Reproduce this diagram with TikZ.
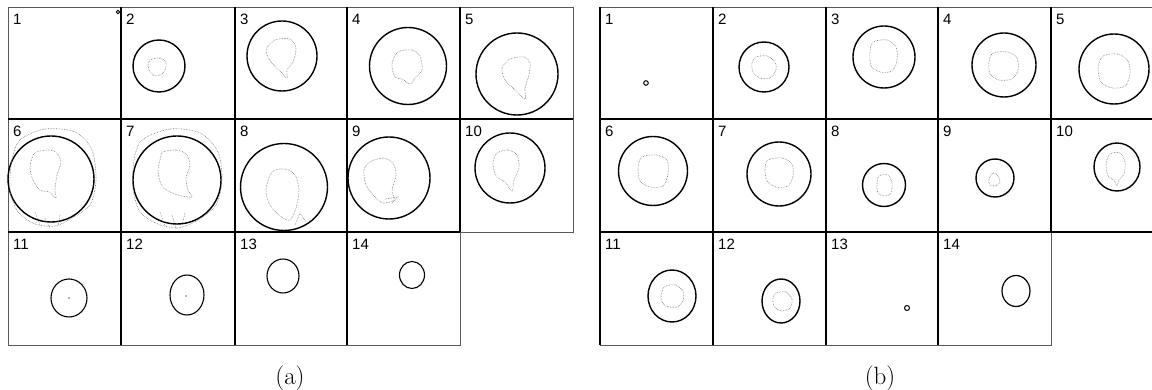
\documentclass[tikz,border=0pt]{standalone}
\usepackage{fontspec}
\newfontfamily\lblfont{Liberation Sans}
\begin{document}
\begin{tikzpicture}[x=1pt,y=-1pt,
  inner/.style={black,line width=1.5pt},
  outer/.style={black!65,line width=0.9pt},
  ring/.style={black,line width=1.4pt},
  contour/.style={black!55,line width=0.6pt,densely dotted},
  lbl/.style={font=\lblfont\fontsize{15}{15}\selectfont,inner sep=0pt,anchor=north west},
  capt/.style={font=\fontsize{25}{25}\selectfont,inner sep=0pt}]
\useasboundingbox (0,0) rectangle (1152,390);
\clip (0,0) rectangle (1152,390);
% ---------- grid (a) ----------
\draw[outer] (8,7) -- (573,7) -- (573,232) -- (460,232) -- (460,345) -- (8,345) -- cycle;
\draw[inner] (121,7) -- (121,345);
\draw[inner] (235,7) -- (235,345);
\draw[inner] (347,7) -- (347,345);
\draw[inner] (460,7) -- (460,232);
\draw[inner] (8,119) -- (573,119);
\draw[inner] (8,232) -- (460,232);
% labels (a)
\node[lbl] (a1) at (13,14) {1};
\node[lbl] (a2) at (126,14) {2};
\node[lbl] (a3) at (240,14) {3};
\node[lbl] (a4) at (352,14) {4};
\node[lbl] (a5) at (465,14) {5};
\node[lbl] (a6) at (13,126) {6};
\node[lbl] (a7) at (126,126) {7};
\node[lbl] (a8) at (240,126) {8};
\node[lbl] (a9) at (352,126) {9};
\node[lbl] (a10) at (465,126) {10};
\node[lbl] (a11) at (13,239) {11};
\node[lbl] (a12) at (126,239) {12};
\node[lbl] (a13) at (240,239) {13};
\node[lbl] (a14) at (352,239) {14};
% circles (a)
\draw[ring,line width=0.8pt] (118,12) circle (1.8);
\draw[ring] (159,66) circle (26);
\draw[ring] (282,56) circle (35);
\draw[ring] (408,66) circle (38.5);
\draw[ring] (517,74) circle (41);
\draw[ring] (51,179) circle (43);
\draw[ring] (177,180) circle (44);
\draw[ring] (284,187) circle (43.5);
\draw[ring] (389,178) circle (41);
\draw[ring] (510,168) circle (35);
\draw[ring,line width=1.1pt] (69,298) ellipse (18 and 19);
\draw[ring,line width=1.1pt] (187,295) ellipse (17 and 20);
\draw[ring,line width=1.1pt] (283,276) ellipse (16 and 17);
\draw[ring,line width=1.1pt] (412,275) ellipse (12.5 and 13.5);
\fill[black!60] (69,298) circle (0.8);
\fill[black!60] (186,296) circle (0.8);
% inner contours (a)
\draw[contour] plot[smooth cycle] coordinates {(150,60) (160,58) (166,63) (164,72) (156,76) (150,72) (148,66)};
\draw[contour] plot[smooth cycle] coordinates {(275,40) (290,39) (296,48) (293,62) (287,70) (287,78) (280,71) (271,62) (266,50)};
\draw[contour] plot[smooth cycle] coordinates {(398,52) (412,50) (420,56) (422,70) (415,78) (410,84) (402,79) (395,77) (392,64)};
\draw[contour] plot[smooth cycle] coordinates {(510,59) (524,57) (530,63) (529,75) (525,88) (525,99) (515,90) (505,80) (502,68)};
\draw[contour] plot[smooth cycle] coordinates {(36,152) (48,150) (56,152) (61,162) (57,175) (55,190) (56,198) (49,192) (40,190) (33,180) (30,168) (32,158)};
\draw[contour] plot[smooth cycle] coordinates {(163,152) (176,150) (186,154) (190,165) (186,178) (188,190) (192,197) (182,196) (172,193) (162,186) (158,172) (160,160)};
\draw[contour] plot[smooth cycle] coordinates {(272,172) (285,169) (295,175) (299,190) (296,208) (290,220) (280,216) (270,205) (266,190)};
\draw[contour] plot[smooth cycle] coordinates {(370,162) (383,158) (393,163) (396,175) (392,190) (394,200) (383,203) (375,197) (366,185) (364,170)};
\draw[contour] plot[smooth cycle] coordinates {(497,153) (508,150) (517,155) (519,168) (514,180) (512,191) (505,182) (496,176) (493,163)};
% outer gray contours for 6 and 7
\draw[contour] plot[smooth cycle] coordinates {(20,140) (45,129) (75,132) (92,150) (96,180) (90,205) (72,218) (55,226) (35,224) (18,212) (10,190) (12,160)};
\draw[contour] plot[smooth cycle] coordinates {(142,140) (170,129) (200,133) (218,152) (222,180) (216,205) (198,220) (178,228) (158,224) (140,212) (133,188) (134,160)};
\draw[contour] (35,212) -- (40,225) (45,218) -- (50,228) (60,215) -- (58,226);
\draw[contour] (160,212) -- (165,226) (172,215) -- (176,228) (185,213) -- (182,225);
\draw[contour] (295,225) -- (300,213) -- (306,222);
\draw[contour] (385,199) -- (398,197) -- (392,203);
% ---------- grid (b) ----------
\draw[outer] (600,7) -- (1164,7) (1164,232) -- (600,232) -- (600,7);
\draw[outer] (1051,232) -- (1051,345) -- (600,345) -- (600,232);
\draw[inner] (600,7) -- (600,345);
\draw[inner] (713,7) -- (713,345);
\draw[inner] (826,7) -- (826,345);
\draw[inner] (938,7) -- (938,345);
\draw[inner] (1051,7) -- (1051,232);
\draw[inner] (600,119) -- (1164,119);
\draw[inner] (600,232) -- (1164,232);
% labels (b)
\node[lbl] (b1) at (605,14) {1};
\node[lbl] (b2) at (718,14) {2};
\node[lbl] (b3) at (831,14) {3};
\node[lbl] (b4) at (943,14) {4};
\node[lbl] (b5) at (1056,14) {5};
\node[lbl] (b6) at (605,126) {6};
\node[lbl] (b7) at (718,126) {7};
\node[lbl] (b8) at (831,126) {8};
\node[lbl] (b9) at (943,126) {9};
\node[lbl] (b10) at (1056,126) {10};
\node[lbl] (b11) at (605,239) {11};
\node[lbl] (b12) at (718,239) {12};
\node[lbl] (b13) at (831,239) {13};
\node[lbl] (b14) at (943,239) {14};
% circles (b)
\draw[ring,line width=1pt] (646,83) circle (2.3);
\draw[ring] (764,67) circle (25);
\draw[ring] (884,57) circle (31);
\draw[ring] (1004,65) circle (32);
\draw[ring] (1114,69) circle (35);
\draw[ring] (653,171) circle (34.5);
\draw[ring] (779,174) circle (32);
\draw[ring] (884,185) circle (21.5);
\draw[ring] (995,178) circle (19);
\draw[ring] (1117,167) ellipse (23 and 24);
\draw[ring] (672,296) ellipse (24 and 26);
\draw[ring] (781,301) ellipse (19 and 22);
\draw[ring,line width=1pt] (907,308) circle (2.5);
\draw[ring,line width=1.2pt] (1016,291) ellipse (14 and 15.5);
% inner contours (b)
\draw[contour] plot[smooth cycle] coordinates {(756,57) (767,56) (775,62) (776,70) (770,78) (760,78) (753,72) (752,63)};
\draw[contour] plot[smooth cycle] coordinates {(873,42) (887,40) (896,47) (897,60) (892,71) (880,72) (871,66) (870,52)};
\draw[contour] plot[smooth cycle] coordinates {(993,53) (1008,52) (1017,58) (1018,70) (1012,79) (999,80) (990,74) (989,62)};
\draw[contour] plot[smooth cycle] coordinates {(1103,56) (1118,54) (1128,61) (1130,74) (1125,86) (1112,88) (1101,82) (1098,68)};
\draw[contour] plot[smooth cycle] coordinates {(642,157) (656,155) (667,160) (668,174) (663,186) (650,187) (640,181) (638,168)};
\draw[contour] plot[smooth cycle] coordinates {(768,160) (782,158) (792,164) (793,176) (788,186) (776,187) (767,181) (765,169)};
\draw[contour] plot[smooth cycle] coordinates {(879,176) (888,175) (892,183) (891,193) (885,196) (878,193) (877,184)};
\draw[contour] plot[smooth cycle] coordinates {(993,173) (998,176) (1000,182) (996,186) (990,185) (989,179)};
\draw[contour] plot[smooth cycle] coordinates {(1110,154) (1120,153) (1125,162) (1124,174) (1119,180) (1117,186) (1114,180) (1108,176) (1106,164)};
\draw[contour] plot[smooth cycle] coordinates {(664,287) (675,285) (683,291) (683,301) (677,307) (666,306) (661,299)};
\draw[contour] plot[smooth cycle] coordinates {(776,293) (786,292) (792,299) (790,308) (781,311) (774,306) (773,298)};
% captions
\node[capt] (capA) at (290,378) {(a)};
\node[capt] (capB) at (880,378) {(b)};
\end{tikzpicture}
\end{document}
